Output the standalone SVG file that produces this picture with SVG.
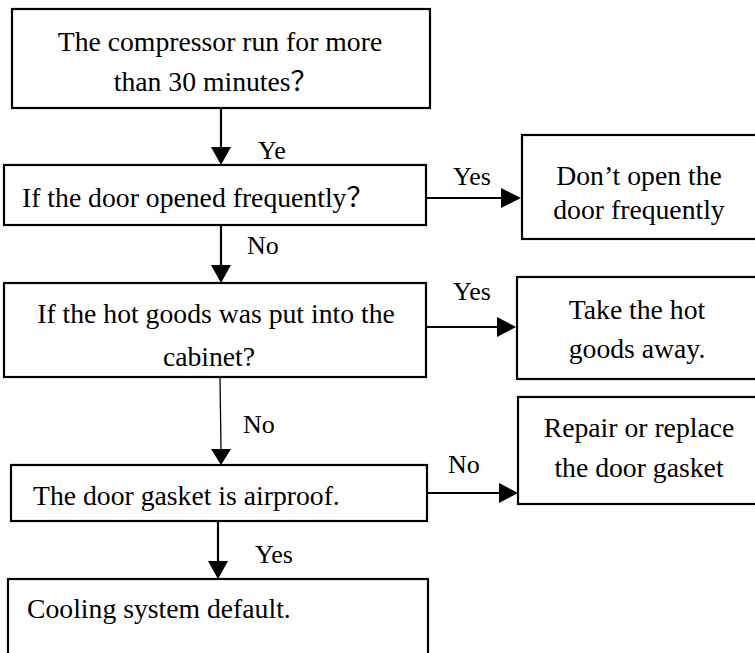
<svg xmlns="http://www.w3.org/2000/svg" width="755" height="653" viewBox="0 0 755 653">
<defs>
<style>
.box{fill:#fff;stroke:#000;stroke-width:2.2}
.t{font-family:"Liberation Serif","Times New Roman","Noto Sans CJK SC",serif;font-size:27.7px;fill:#000}
.c{text-anchor:middle}
.lbl{font-family:"Liberation Serif","Times New Roman",serif;font-size:26px;fill:#000}
.ln{stroke:#000;stroke-width:2.2;fill:none}
.thin{stroke:#000;stroke-width:1.3;fill:none}
.ah{fill:#000}
</style>
</defs>
<rect width="755" height="653" fill="#fff"/>
<g font-family="'Liberation Serif', 'Times New Roman', serif">
<g id="n1"><rect class="box" x="12" y="9" width="418" height="99"/>
<text class="t c" x="220" y="51">The compressor run for more</text>
<text class="t c" x="216" y="91">than 30 minutes？</text></g>
<g id="n2"><rect class="box" x="4" y="165" width="422" height="60"/>
<text class="t" x="22" y="207">If the door opened frequently？</text></g>
<g id="n3"><rect class="box" x="522" y="135" width="240" height="104"/>
<text class="t c" x="639" y="185">Don’t open the</text>
<text class="t c" x="639" y="219">door frequently</text></g>
<g id="n4"><rect class="box" x="4" y="283" width="422" height="94"/>
<text class="t c" x="216" y="323">If the hot goods was put into the</text>
<text class="t c" x="209" y="366">cabinet?</text></g>
<g id="n5"><rect class="box" x="517" y="277" width="245" height="102"/>
<text class="t c" x="637" y="319">Take the hot</text>
<text class="t c" x="637" y="358">goods away.</text></g>
<g id="n6"><rect class="box" x="11" y="465" width="416" height="56"/>
<text class="t" x="33" y="505">The door gasket is airproof.</text></g>
<g id="n7"><rect class="box" x="518" y="397" width="244" height="107"/>
<text class="t c" x="639" y="437">Repair or replace</text>
<text class="t c" x="639" y="477">the door gasket</text></g>
<g id="n8"><rect class="box" x="8" y="579" width="420" height="90"/>
<text class="t" x="27" y="618">Cooling system default.</text></g>
<g id="connectors">
<line class="ln" x1="221" y1="108" x2="221" y2="148"/>
<polygon class="ah" points="211,147 231,147 221,165"/>
<text class="lbl" x="258" y="159">Ye</text>
<line class="ln" x1="426" y1="198" x2="502" y2="198"/>
<polygon class="ah" points="501,188 501,208 521,198"/>
<text class="lbl" x="453" y="185">Yes</text>
<line class="ln" x1="221" y1="225" x2="221" y2="266"/>
<polygon class="ah" points="211,265 231,265 221,283"/>
<text class="lbl" x="247" y="254">No</text>
<line class="ln" x1="426" y1="327" x2="498" y2="327"/>
<polygon class="ah" points="497,317 497,337 516,327"/>
<text class="lbl" x="453" y="300">Yes</text>
<line class="thin" x1="220" y1="377" x2="221" y2="450"/>
<polygon class="ah" points="211,449 231,449 221,465"/>
<text class="lbl" x="243" y="433">No</text>
<line class="ln" x1="427" y1="493" x2="500" y2="493"/>
<polygon class="ah" points="499,483 499,503 518,493"/>
<text class="lbl" x="448" y="473">No</text>
<line class="ln" x1="218" y1="521" x2="218" y2="562"/>
<polygon class="ah" points="208,561 228,561 218,579"/>
<text class="lbl" x="255" y="563">Yes</text>
</g>
</g>
</svg>
